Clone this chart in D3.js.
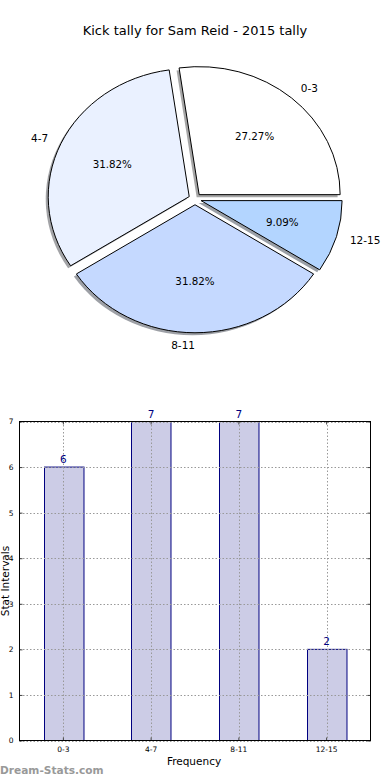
<!DOCTYPE html>
<html>
<head>
<meta charset="utf-8">
<script src="https://cdn.jsdelivr.net/npm/d3@7"></script>
<style>
  body { margin: 0; background: #fff; }
  svg { display: block; }
</style>
</head>
<body>
<div id="chart"></div>
<script>
// data
const intervals = ['0-3', '4-7', '8-11', '12-15'];
const counts = [6, 7, 7, 2];
const sliceColors = ['#ffffff', '#eaf1ff', '#c5d9ff', '#b3d5ff'];
const yTicks = [0, 1, 2, 3, 4, 5, 6, 7];
const title = 'Kick tally for Sam Reid - 2015 tally';

// constants
const width = 390;
const height = 780;
const fontFamily = `'DejaVu Sans', sans-serif`;

// pie geometry (ellipse because the axes are not equal)
const cx = 195, cy = 199;
const rx = 141, ry = 128;
const k = ry / rx;
const explode = 0.045;

// bar geometry
const bar = {left: 19.5, right: 370.5, top: 421.5, bottom: 740.5};

const svg = d3.select('#chart').append('svg')
    .attr('width', width)
    .attr('height', height);

svg.append('text')
    .attr('x', 195)
    .attr('y', 34.5)
    .attr('text-anchor', 'middle')
    .style('font', `13px ${fontFamily}`)
    .text(title);

// ---- pie ----
const total = d3.sum(counts);
const pieData = d3.pie().sort(null)
    .startAngle(Math.PI / 2)
    .endAngle(Math.PI / 2 - 2 * Math.PI)(counts);

const arc = d3.arc().innerRadius(0).outerRadius(rx);
const mid = d => (d.startAngle + d.endAngle) / 2;
const offset = d => [rx * explode * Math.sin(mid(d)), -rx * explode * Math.cos(mid(d))];

const shadowG = svg.append('g')
    .attr('transform', `translate(${cx - 2.5},${cy + 2.5}) scale(1,${k})`);
shadowG.selectAll('path')
    .data(pieData)
    .join('path')
    .attr('transform', d => `translate(${offset(d)})`)
    .attr('d', arc)
    .attr('fill', (d, i) => {
        const c = d3.rgb(sliceColors[i]);
        return d3.rgb(c.r * 0.3, c.g * 0.3, c.b * 0.3);
    })
    .attr('fill-opacity', 0.5);

const pieG = svg.append('g')
    .attr('transform', `translate(${cx},${cy}) scale(1,${k})`);
pieG.selectAll('path')
    .data(pieData)
    .join('path')
    .attr('transform', d => `translate(${offset(d)})`)
    .attr('d', arc)
    .attr('fill', (d, i) => sliceColors[i])
    .attr('stroke', '#000')
    .attr('stroke-width', 1)
    .attr('stroke-linejoin', 'miter')
    .attr('vector-effect', 'non-scaling-stroke');

const labelPos = (d, f) => [cx + rx * (f + explode) * Math.sin(mid(d)),
                            cy - ry * (f + explode) * Math.cos(mid(d))];

svg.selectAll('.slabel')
    .data(pieData)
    .join('text')
    .attr('class', 'slabel')
    .attr('x', d => labelPos(d, 1.1)[0])
    .attr('y', d => labelPos(d, 1.1)[1])
    .attr('dy', '0.36em')
    .attr('text-anchor', d => Math.sin(mid(d)) > 0 ? 'start' : 'end')
    .style('font', `10.5px ${fontFamily}`)
    .text((d, i) => intervals[i]);

svg.selectAll('.pct')
    .data(pieData)
    .join('text')
    .attr('class', 'pct')
    .attr('x', d => labelPos(d, 0.6)[0])
    .attr('y', d => labelPos(d, 0.6)[1])
    .attr('dy', '0.36em')
    .attr('text-anchor', 'middle')
    .style('font', `10.3px ${fontFamily}`)
    .text(d => (d.value / total * 100).toFixed(2) + '%');

// ---- bars ----
const xScale = d3.scaleBand()
    .domain(intervals)
    .range([bar.left, bar.right])
    .paddingInner(0.55)
    .paddingOuter(0.275);
const yScale = d3.scaleLinear()
    .domain([0, 7])
    .range([bar.bottom, bar.top]);

const bg = svg.append('g');

bg.selectAll('.bar')
    .data(counts)
    .join('rect')
    .attr('class', 'bar')
    .attr('x', (d, i) => Math.round(xScale(intervals[i])) + 0.5)
    .attr('y', d => yScale(d))
    .attr('width', xScale.bandwidth())
    .attr('height', d => yScale(0) - yScale(d))
    .attr('fill', 'rgba(0,0,128,0.2)')
    .attr('stroke', '#000080')
    .attr('stroke-width', 1);

// grid on top
const grid = bg.append('g')
    .attr('stroke', '#999')
    .attr('stroke-width', 1)
    .attr('stroke-dasharray', '1.5,2');
grid.selectAll('.hg')
    .data(yTicks)
    .join('line')
    .attr('x1', bar.left)
    .attr('x2', bar.right)
    .attr('y1', d => Math.round(yScale(d)) + 0.5)
    .attr('y2', d => Math.round(yScale(d)) + 0.5);
grid.selectAll('.vg')
    .data(intervals)
    .join('line')
    .attr('x1', d => Math.round(xScale(d) + xScale.bandwidth() / 2) + 0.5)
    .attr('x2', d => Math.round(xScale(d) + xScale.bandwidth() / 2) + 0.5)
    .attr('y1', bar.top)
    .attr('y2', bar.bottom);

// axes with inward ticks
const yAxisL = bg.append('g')
    .attr('transform', `translate(${bar.left},0)`)
    .call(d3.axisLeft(yScale).tickValues(yTicks).tickFormat(d3.format('d')).tickSize(-3).tickPadding(6));
const yAxisR = bg.append('g')
    .attr('transform', `translate(${bar.right},0)`)
    .call(d3.axisRight(yScale).tickValues(yTicks).tickSize(-3).tickFormat(''));
const xAxisB = bg.append('g')
    .attr('transform', `translate(0,${bar.bottom})`)
    .call(d3.axisBottom(xScale).tickSize(-3).tickPadding(6));
const xAxisT = bg.append('g')
    .attr('transform', `translate(0,${bar.top})`)
    .call(d3.axisTop(xScale).tickSize(-3).tickFormat(''));

[yAxisL, yAxisR, xAxisB, xAxisT].forEach(a => {
    a.select('.domain').remove();
    a.selectAll('.tick line').attr('stroke', '#444');
    a.selectAll('.tick text').style('font', `7.5px ${fontFamily}`).attr('fill', '#000');
});

bg.append('rect')
    .attr('x', bar.left)
    .attr('y', bar.top)
    .attr('width', bar.right - bar.left)
    .attr('height', bar.bottom - bar.top)
    .attr('fill', 'none')
    .attr('stroke', '#000')
    .attr('stroke-width', 1);

bg.selectAll('.val')
    .data(counts)
    .join('text')
    .attr('class', 'val')
    .attr('x', (d, i) => xScale(intervals[i]) + xScale.bandwidth() / 2)
    .attr('y', d => yScale(d) - 4)
    .attr('text-anchor', 'middle')
    .attr('fill', '#000080')
    .style('font', `10.5px ${fontFamily}`)
    .text(d => d);

bg.append('text')
    .attr('x', 194)
    .attr('y', 765)
    .attr('text-anchor', 'middle')
    .style('font', `10.5px ${fontFamily}`)
    .text('Frequency');

bg.append('text')
    .attr('transform', `translate(9,581) rotate(-90)`)
    .attr('text-anchor', 'middle')
    .style('font', `10.5px ${fontFamily}`)
    .text('Stat Intervals');

svg.append('text')
    .attr('x', 0)
    .attr('y', 774)
    .attr('fill', '#999')
    .style('font', `bold 10.6px ${fontFamily}`)
    .text('Dream-Stats.com');
</script>
</body>
</html>
